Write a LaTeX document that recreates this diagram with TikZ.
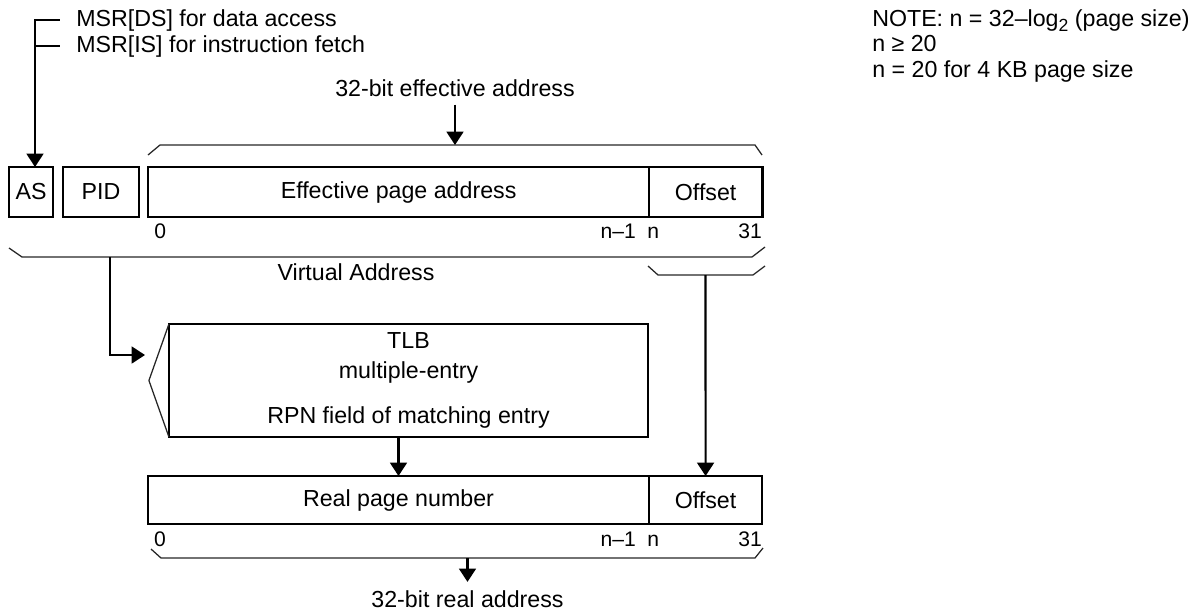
\documentclass[tikz,border=0pt]{standalone}
\usepackage{fontspec}
\setmainfont{Liberation Sans}
\usepackage{tikz}
\usetikzlibrary{positioning,calc,arrows.meta}

\begin{document}
\begin{tikzpicture}[
    x=0.025cm, y=-0.025cm,
    font=\fontsize{16.5}{21.3}\selectfont,
    field/.style={rectangle, draw=black, line width=1.9pt, outer sep=0pt, inner sep=0pt, minimum height=1.25cm, align=center},
    cell/.style={field, line width=1.1pt},
    frame/.style={line width=1.9pt},
    lbl/.style={inner xsep=0pt, inner ysep=0.2cm},
    bit/.style={inner sep=0pt, font=\fontsize{15}{18}\selectfont},
    arrow/.style={-{Triangle[width=12pt,length=9.5pt]}, line width=1.5pt},
    wire/.style={line width=1.5pt},
    brace/.style={line width=0.9pt, draw=black!85},
]
\useasboundingbox (0,0) rectangle (1203,612);

% Virtual address fields.
\node[field, minimum width=1.1cm] (as) at (31,192) {AS};
\node[field, minimum width=1.9cm, right=0.25cm of as] (pid) {PID};
\node[cell, minimum width=12.525cm, right=0.225cm of pid] (epa) {Effective page address};
\node[cell, minimum width=2.825cm, right=0pt of epa] (eoff) {Offset};
\draw[frame] (epa.north west) rectangle (eoff.south east);

\node[bit, anchor=base west] (v0)  at ($(epa.south west)+(6,21)$) {0};
\node[bit, anchor=base east] (vn1) at ($(epa.south east)+(-13,21)$) {n–1};
\node[bit, anchor=base west] (vn)  at ($(eoff.south west)+(-2,21)$) {n};
\node[bit, anchor=base east] (v31) at ($(eoff.south east)+(0,21)$) {31};

% TLB and real address fields.
\node[field, minimum width=11.975cm, minimum height=2.825cm] (tlb) at (408.5,380.5) {TLB\\multiple-entry\\[0.375cm]RPN field of matching entry};
\node[cell, minimum width=12.525cm, minimum height=1.2cm] (rpn) at (398.5,500) {Real page number};
\node[cell, minimum width=2.825cm, minimum height=1.2cm, right=0pt of rpn] (roff) {Offset};
\draw[frame] (rpn.north west) rectangle (roff.south east);

\node[bit, anchor=base west] (r0)  at ($(rpn.south west)+(6,22)$) {0};
\node[bit, anchor=base east] (rn1) at ($(rpn.south east)+(-13,22)$) {n–1};
\node[bit, anchor=base west] (rn)  at ($(roff.south west)+(-2,22)$) {n};
\node[bit, anchor=base east] (r31) at ($(roff.south east)+(0,22)$) {31};

% Texts.
\node[inner sep=0pt, anchor=base west] (msrds) at (76,26) {MSR[DS] for data access};
\node[inner sep=0pt, anchor=base west] (msris) at (76,52) {MSR[IS] for instruction fetch};
\node[lbl, anchor=base] (effaddr) at (455,96) {32-bit effective address};
\node[lbl, anchor=base] (virt) at (356,280) {Virtual Address};
\node[lbl, anchor=base] (realaddr) at (467.5,607) {32-bit real address};
\node[inner sep=0pt, anchor=north west, align=left, font=\fontsize{16.5}{18.1}\selectfont] (note) at (872,9)
  {NOTE: n = 32–log\raisebox{-0.45ex}{\fontsize{12.5}{12.5}\selectfont 2} (page size)\\n ≥ 20\\n = 20 for 4 KB page size};

% Braces and the TLB wedge.
\draw[brace] (148,155) -- (160,145) -- (755,145) -- (762,155);
\draw[brace] (9,248) -- (22,257) -- (752,257) -- (765,247);
\draw[brace] (648,266) -- (658,275) -- (753,275) -- (765,266);
\draw[brace] (151,549) -- (161,558) -- (755,558) -- (763,548);
\draw[brace] (tlb.north west) -- ([xshift=-0.5cm]tlb.west) -- (tlb.south west);

\coordinate (efftop) at (455,145);
\coordinate (vstem) at (110,257);
\coordinate (tlbin) at (145,355);
\coordinate (ostem) at (705.5,275);
\coordinate (rstem) at (467.5,558);

% Connectors.
\draw[arrow] ([xshift=-0.4cm]msrds.west) -| ([xshift=0.1cm]as.north);
\draw[wire] ([xshift=-0.4cm]msris.west) -- ([xshift=0.1cm]as.north |- msris.west);
\draw[arrow] (effaddr.south) -- (efftop);
\draw[arrow] (vstem) |- (tlbin);
\draw[arrow] (ostem) -- (roff.north);
\draw[arrow] (tlb.south -| rpn.north) -- (rpn.north);
\draw[arrow] (rstem) -- (realaddr.north);
\end{tikzpicture}
\end{document}
